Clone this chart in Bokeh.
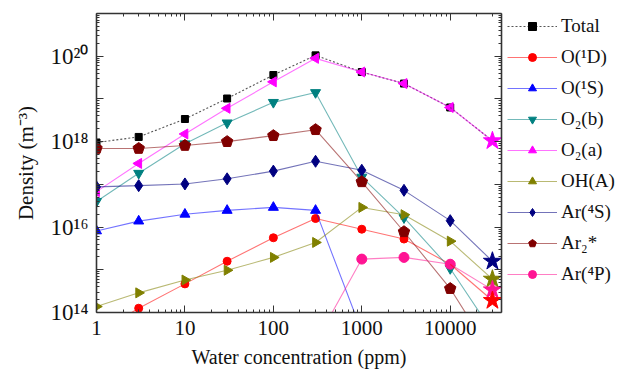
import math
from bokeh.plotting import figure
from bokeh.layouts import row
from bokeh.models import (LogAxis, FixedTicker, CustomJSTickFormatter, Legend,
                          LegendItem, Range1d, ColumnDataSource)
from bokeh.embed import file_html
from bokeh.resources import INLINE

# ---- data (log10 of density, m^-3) ----
water_ppm = [1, 3, 10, 30, 100, 300, 1000, 3000, 10000, 30000]
total_log = [17.98, 18.11, 18.53, 19.01, 19.56, 20.02, 19.63, 19.36, 18.80, 18.02]
o1d_log = [13.5, 14.1, 14.67, 15.2, 15.75, 16.2, 15.95, 15.72, 15.13, 14.28]
o1s_ppm = [1, 3, 10, 30, 100, 300, 1000]
o1s_log = [15.91, 16.14, 16.30, 16.39, 16.46, 16.39, 13.55]
o2b_log = [16.6, 17.26, 17.95, 18.44, 18.92, 19.15, 17.17, 16.22, 15.03, 13.55]
o2a_log = [16.83, 17.49, 18.18, 18.78, 19.40, 19.95, 19.63, 19.36, 18.80, 18.02]
oha_log = [14.14, 14.46, 14.76, 14.99, 15.29, 15.64, 16.46, 16.29, 15.67, 14.78]
ar4s_log = [16.94, 16.97, 17.01, 17.13, 17.31, 17.54, 17.33, 16.86, 16.15, 15.2]
ar2_log = [17.84, 17.84, 17.91, 18.0, 18.14, 18.28, 17.06, 15.89, 14.56, 13.0]
ar4p_ppm = [300, 1000, 3000, 10000, 30000]
ar4p_log = [13.3, 15.25, 15.29, 15.13, 14.53]

labels = ["Total", "O(\u00b9D)", "O(\u00b9S)", "O\u2082(b)", "O\u2082(a)", "OH(A)",
          "Ar(\u2074S)", "Ar\u2082*", "Ar(\u2074P)"]
x_ticks = [1, 10, 100, 1000, 10000]
y_exps = list(range(14, 22))

FONT = "Liberation Serif"


def dens(vals):
    return [10 ** v for v in vals]


p = figure(width=505, height=377, x_axis_type="log", y_axis_type="log",
           x_range=Range1d(1, 38000), y_range=Range1d(1e14, 1e21),
           output_backend="svg", toolbar_location=None,
           min_border_left=96, min_border_right=4, min_border_top=13,
           min_border_bottom=65, x_axis_location=None, y_axis_location=None)
p.grid.visible = False
p.outline_line_color = None

x_minor = [m * 10 ** d for d in range(0, 5) for m in range(2, 10)]
y_minor = [m * 10 ** d for d in range(14, 21) for m in range(2, 10)]
xt = FixedTicker(ticks=x_ticks, minor_ticks=x_minor)
yt = FixedTicker(ticks=[10 ** e for e in y_exps], minor_ticks=y_minor)

xfmt = CustomJSTickFormatter(code="return String(Math.round(tick));")
yfmt = CustomJSTickFormatter(code="""
const sup = {"0":"\u2070","1":"\u00b9","2":"\u00b2","3":"\u00b3","4":"\u2074",
             "5":"\u2075","6":"\u2076","7":"\u2077","8":"\u2078","9":"\u2079"};
const e = Math.round(Math.log10(tick));
if (e % 2 != 0) return "";
return "10" + String(e).split("").map(c => sup[c]).join("");
""")
blank = CustomJSTickFormatter(code="return '';")


def style(ax):
    ax.axis_line_width = 1.6
    ax.axis_line_color = "#333333"
    ax.major_tick_line_color = "#333333"
    ax.minor_tick_line_color = "#333333"
    ax.major_tick_in = 7
    ax.major_tick_out = 0
    ax.minor_tick_in = 3
    ax.minor_tick_out = 0
    ax.major_label_text_font = FONT
    ax.axis_label_text_font = FONT
    ax.axis_label_text_font_style = "normal"
    ax.major_label_text_color = "#111111"
    ax.axis_label_text_color = "#111111"


xb = LogAxis(ticker=xt, formatter=xfmt, axis_label="Water concentration (ppm)")
style(xb)
xb.major_label_text_font_size = "21px"
xb.axis_label_text_font_size = "20px"
xb.major_label_standoff = 8
xb.axis_label_standoff = 8
p.add_layout(xb, "below")

yl = LogAxis(ticker=yt, formatter=yfmt, axis_label="Density (m\u207b\u00b3)")
style(yl)
yl.major_label_text_font_size = "23px"
yl.axis_label_text_font_size = "21px"
yl.major_label_standoff = 8
yl.axis_label_standoff = 10
p.add_layout(yl, "left")

xa = LogAxis(ticker=xt, formatter=blank)
style(xa)
xa.major_label_text_font_size = "1px"
xa.major_label_standoff = 0
p.add_layout(xa, "above")
yr = LogAxis(ticker=yt, formatter=blank)
style(yr)
yr.major_label_text_font_size = "1px"
yr.major_label_standoff = 0
p.add_layout(yr, "right")

LALPHA = 0.55
specs = []


def series(label, xs, ys, color, marker, size, dash="solid", lcolor=None,
           lalpha=LALPHA, angle=0.0):
    p.line(xs, dens(ys), line_color=lcolor or color, line_width=1.1,
           line_alpha=lalpha, line_dash=dash)
    if marker == "pentagon":
        p.ngon(xs, dens(ys), radius=6, radius_units="screen", n=5,
               fill_color=color, line_color=color)
    else:
        p.scatter(xs, dens(ys), marker=marker, size=size, angle=angle,
                  fill_color=color, line_color=color)
    specs.append((label, color, marker, size, angle, dash, lcolor or color, lalpha))


series(labels[0], water_ppm[:-1], total_log[:-1], "black", "square", 7, dash="2 2",
       lcolor="#444444", lalpha=0.9)
series(labels[1], water_ppm[:-1], o1d_log[:-1], "#ff0000", "circle", 8)
series(labels[2], o1s_ppm, o1s_log, "#0000ff", "triangle", 10)
series(labels[3], water_ppm, o2b_log, "#008080", "inverted_triangle", 10)
series(labels[4], water_ppm[:-1], o2a_log[:-1], "#ff00ff", "triangle", 10,
       angle=math.pi / 2)
series(labels[5], water_ppm[:-1], oha_log[:-1], "#808000", "triangle", 10,
       angle=-math.pi / 2)
series(labels[6], water_ppm[:-1], ar4s_log[:-1], "#000080", "diamond", 12)
series(labels[7], water_ppm, ar2_log, "#800000", "pentagon", 11)
series(labels[8], ar4p_ppm[:-1], ar4p_log[:-1], "#ff1493", "circle", 10)

# last segments ending in star markers
p.line(water_ppm[-2:], dens(total_log[-2:]), line_color="#444444", line_width=1.1,
       line_dash="2 2", line_alpha=0.9)
last = [(water_ppm, ar4s_log, "#000080"), (water_ppm, oha_log, "#808000"),
        (ar4p_ppm, ar4p_log, "#ff1493"), (water_ppm, o1d_log, "#ff0000"),
        (water_ppm, o2a_log, "#ff00ff")]
for xs, ys, c in last:
    p.line(xs[-2:], dens(ys[-2:]), line_color=c, line_width=1.1, line_alpha=LALPHA)
for xs, ys, c in last:
    p.scatter([xs[-1]], [10 ** ys[-1]], marker="star", size=19,
              fill_color=c, line_color=c)

# ---- legend panel (separate figure to the right of the plot) ----
q = figure(width=126, height=377, x_range=Range1d(0, 1), y_range=Range1d(0, 1),
           output_backend="svg", toolbar_location=None, min_border=0,
           x_axis_location=None, y_axis_location=None)
q.grid.visible = False
q.outline_line_color = None
items = []
for label, color, marker, size, angle, dash, lcolor, lalpha in specs:
    ln = q.line([-5, -4], [-5, -4], line_color=lcolor, line_width=1.1,
                line_alpha=lalpha, line_dash=dash)
    if marker == "pentagon":
        mk = q.ngon([-5], [-5], radius=5, radius_units="screen", n=5,
                    fill_color=color, line_color=color)
    else:
        src = ColumnDataSource(dict(x=[-5], y=[-5], ang=[angle]))
        mk = q.scatter("x", "y", source=src, marker=marker, size=size * 0.8,
                       angle="ang", fill_color=color, line_color=color)
    items.append(LegendItem(label=label, renderers=[ln, mk], index=0))

legend = Legend(items=items, location=(2, 27), orientation="vertical")
legend.label_text_font = FONT
legend.label_text_font_size = "19px"
legend.label_text_color = "#111111"
legend.label_height = 20
legend.glyph_height = 20
legend.glyph_width = 50
legend.spacing = 9
legend.padding = 0
legend.margin = 0
legend.label_standoff = 4
legend.border_line_alpha = 0
legend.background_fill_alpha = 0
q.add_layout(legend)

open("out.html", "w").write(file_html(row(p, q), INLINE))
